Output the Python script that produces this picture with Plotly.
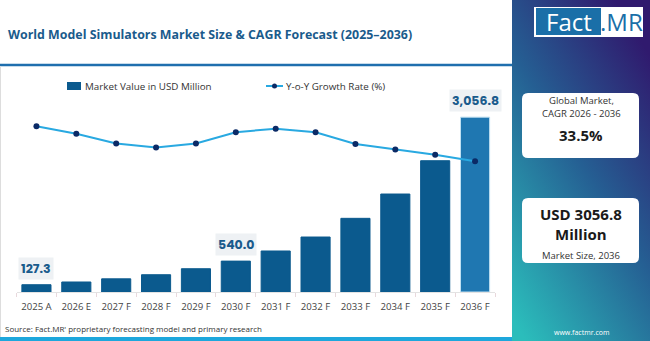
import plotly.graph_objects as go

categories = ["2025 A", "2026 E", "2027 F", "2028 F", "2029 F", "2030 F",
              "2031 F", "2032 F", "2033 F", "2034 F", "2035 F", "2036 F"]
market_value = [127.3, 175, 230, 302, 407, 540.0, 717, 961, 1288, 1713, 2295, 3056.8]
growth_rate = [38.0, 36.5, 34.5, 33.7, 34.5, 36.8, 37.5, 36.8, 34.4, 33.3, 32.2, 30.9]
labelled = {0: "127.3", 5: "540.0", 11: "3,056.8"}

W, H = 650, 341
def px(x): return x / W
def py(y): return 1 - y / H

bar_colors = ["#0b5a8e"] * 11 + ["#1f77b1"]
bar_lines = ["#0b5a8e"] * 11 + ["#bfe0f2"]

fig = go.Figure()
fig.add_trace(go.Bar(x=categories, y=market_value, marker=dict(color=bar_colors, line=dict(color=bar_lines, width=1)),
                     showlegend=False, hoverinfo="skip"))
fig.add_trace(go.Scatter(x=categories, y=growth_rate, yaxis="y2", mode="lines+markers",
                         line=dict(color="#29a9e1", width=2),
                         marker=dict(color="#0b2a66", size=6), showlegend=False, hoverinfo="skip"))

annotations = []
for i, t in labelled.items():
    annotations.append(dict(x=categories[i], y=market_value[i], xref="x", yref="y", text="<b>%s</b>" % t,
                            showarrow=False, yanchor="bottom", yshift=5,
                            font=dict(family="Poppins, Open Sans, sans-serif", size=12.5, color="#1a5b8c"),
                            bgcolor="#eef1f4", borderpad=2))

def ann(x, y, text, size, color, bold=False, anchor="center", family="Open Sans, sans-serif"):
    annotations.append(dict(x=px(x), y=py(y), xref="paper", yref="paper",
                            text=("<b>%s</b>" % text) if bold else text, showarrow=False,
                            xanchor=anchor, yanchor="middle", font=dict(family=family, size=size, color=color)))

ann(6, 34, "World Model Simulators Market Size &amp; CAGR Forecast (2025–2036)", 12.4, "#1a5b8c", bold=True, anchor="left")
ann(83, 86, "Market Value in USD Million", 9.8, "#333333", anchor="left")
ann(284, 86, "Y-o-Y Growth Rate (%)", 9.8, "#333333", anchor="left")
ann(3, 328, "Source: Fact.MR' proprietary forecasting model and primary research", 8, "#333333", anchor="left")

# right panel texts
ann(581, 101, "Global Market,", 9.5, "#333333")
ann(581, 114, "CAGR 2026 - 2036", 9.5, "#333333")
ann(581, 135, "33.5%", 15, "#1a1a1a", bold=True)
ann(581, 214, "USD 3056.8", 15, "#1a1a1a", bold=True)
ann(581, 234, "Million", 15, "#1a1a1a", bold=True)
ann(581, 255, "Market Size, 2036", 9.5, "#333333")
ann(581, 332, "www.factmr.com", 7, "#ffffff")
ann(568.5, 21.5, "Fact", 24, "#ffffff")
ann(621, 21.5, ".MR", 24, "#1a6fa8")

shapes = [
    dict(type="line", xref="paper", yref="paper", x0=0, x1=px(512), y0=py(65), y1=py(65),
         line=dict(color="#1f6fae", width=2.5)),
    dict(type="line", xref="paper", yref="paper", x0=px(0.5), x1=px(0.5), y0=py(66), y1=py(337),
         line=dict(color="#dddddd", width=1)),
    dict(type="rect", xref="paper", yref="paper", x0=0, x1=px(512), y0=py(341), y1=py(337),
         fillcolor="#1ea7dc", line=dict(width=0)),
    # legend swatches
    dict(type="rect", xref="paper", yref="paper", x0=px(67), x1=px(81), y0=py(90), y1=py(82),
         fillcolor="#0b5a8e", line=dict(width=0)),
    dict(type="line", xref="paper", yref="paper", x0=px(266), x1=px(283), y0=py(86), y1=py(86),
         line=dict(color="#29a9e1", width=2)),
    dict(type="circle", xref="paper", yref="paper", x0=px(272), x1=px(277), y0=py(88.5), y1=py(83.5),
         fillcolor="#0b2a66", line=dict(width=0)),
    # logo
    dict(type="rect", xref="paper", yref="paper", x0=px(534), x1=px(643), y0=py(37), y1=py(7),
         fillcolor="#ffffff", line=dict(width=0)),
    dict(type="rect", xref="paper", yref="paper", x0=px(536), x1=px(601), y0=py(35), y1=py(8),
         fillcolor="#1a6fa8", line=dict(width=0)),
]

def rrect(x0, y0, x1, y1, r=6):
    X0, X1 = px(x0), px(x1)
    Y0, Y1 = py(y1), py(y0)
    rx, ry = r / W, r / H
    path = (f"M{X0+rx},{Y0} L{X1-rx},{Y0} Q{X1},{Y0} {X1},{Y0+ry} L{X1},{Y1-ry} Q{X1},{Y1} {X1-rx},{Y1} "
            f"L{X0+rx},{Y1} Q{X0},{Y1} {X0},{Y1-ry} L{X0},{Y0+ry} Q{X0},{Y0} {X0+rx},{Y0} Z")
    return dict(type="path", xref="paper", yref="paper", path=path, fillcolor="#ffffff", line=dict(width=0))

shapes.append(rrect(522, 93, 639, 158))
shapes.append(rrect(522, 198, 639, 263))

svg = ("data:image/svg+xml;utf8,<svg xmlns='http://www.w3.org/2000/svg' width='138' height='341'>"
       "<defs><linearGradient id='g' x1='0.75' y1='0' x2='0.1' y2='1'>"
       "<stop offset='0' stop-color='%23301a6e'/><stop offset='0.45' stop-color='%23255f93'/>"
       "<stop offset='1' stop-color='%232bbdbb'/></linearGradient></defs>"
       "<rect width='138' height='341' fill='url(%23g)'/></svg>")

images = [dict(source=svg, xref="paper", yref="paper", x=px(512), y=1, sizex=px(138), sizey=1,
               xanchor="left", yanchor="top", sizing="stretch", layer="below")]

fig.update_layout(
    width=W, height=H, margin=dict(l=0, r=0, t=0, b=0),
    paper_bgcolor="#ffffff", plot_bgcolor="rgba(0,0,0,0)",
    bargap=0.27, showlegend=False,
    xaxis=dict(domain=[px(16.5), px(495)], range=[-0.5, len(categories) - 0.5],
               showgrid=False, showline=True, linecolor="#e3e3e3", linewidth=1,
               ticks="outside", tickson="boundaries", ticklen=4, tickcolor="#e8d8dc", tickangle=0,
               automargin=False, ticklabelstandoff=5,
               tickfont=dict(family="Open Sans, sans-serif", size=9.6, color="#444444"), fixedrange=True),
    yaxis=dict(domain=[py(292), py(100)], range=[0, 192 / 0.0572], visible=False, fixedrange=True),
    yaxis2=dict(overlaying="y", range=[4.28, 43.35], visible=False, fixedrange=True),
    annotations=annotations, shapes=shapes, images=images,
)

fig.write_html("out.html")
